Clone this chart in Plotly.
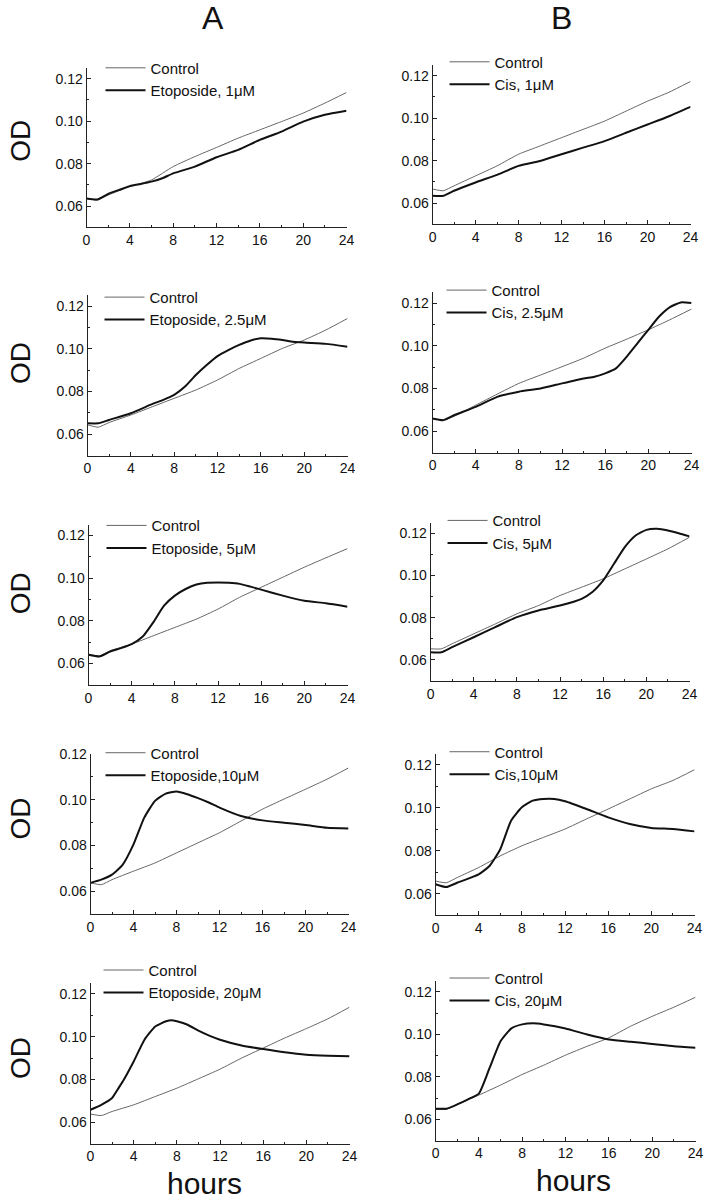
import plotly.graph_objects as go

# ---------------- data ----------------
ctrl_hours = [0, 1, 2, 4, 6, 8, 10, 12, 14, 16, 18, 20, 22, 24]

# Column A (Etoposide)
a1_control = [0.0636, 0.0628, 0.0652, 0.0691, 0.0723, 0.0786, 0.0833, 0.0876, 0.0920, 0.0959, 0.0998, 0.1038, 0.1085, 0.1135]
a1_hours = [0, 1, 2, 3, 4, 5, 6, 7, 8, 10, 12, 14, 16, 18, 20, 22, 24]
a1_drug = [0.0636, 0.0631, 0.0657, 0.0676, 0.0694, 0.0704, 0.0715, 0.0731, 0.0754, 0.0786, 0.0830, 0.0865, 0.0912, 0.0951, 0.0998, 0.1030, 0.1049]

a2_control = [0.0644, 0.0633, 0.0655, 0.0690, 0.0729, 0.0768, 0.0807, 0.0854, 0.0908, 0.0955, 0.1002, 0.1041, 0.1088, 0.1142]
a2_hours = [0, 1, 2, 4, 6, 7, 8, 9, 10, 11, 12, 13, 14, 15, 16, 17, 18, 19, 20, 22, 24]
a2_drug = [0.0651, 0.0651, 0.0667, 0.0698, 0.0742, 0.0761, 0.0784, 0.0823, 0.0877, 0.0924, 0.0966, 0.0994, 0.1018, 0.1038, 0.1049, 0.1047, 0.1041, 0.1033, 0.1029, 0.1023, 0.1010]

a3_control = [0.0644, 0.0636, 0.0660, 0.0691, 0.0730, 0.0769, 0.0808, 0.0855, 0.0910, 0.0957, 0.1004, 0.1051, 0.1095, 0.1138]
a3_hours = [0, 1, 2, 3, 4, 5, 6, 7, 8, 9, 10, 11, 12, 13, 14, 15, 16, 18, 20, 22, 24]
a3_drug = [0.0641, 0.0633, 0.0656, 0.0672, 0.0691, 0.0725, 0.0793, 0.0871, 0.0918, 0.0949, 0.0970, 0.0978, 0.0979, 0.0978, 0.0973, 0.0960, 0.0946, 0.0918, 0.0894, 0.0882, 0.0866]

a4_control = [0.0637, 0.0629, 0.0651, 0.0688, 0.0724, 0.0768, 0.0812, 0.0856, 0.0907, 0.0959, 0.1003, 0.1046, 0.1090, 0.1139]
a4_hours = [0, 1, 2, 3, 4, 5, 6, 7, 8, 9, 10, 11, 12, 14, 16, 18, 20, 22, 24]
a4_drug = [0.0637, 0.0651, 0.0673, 0.0717, 0.0805, 0.0922, 0.0995, 0.1027, 0.1036, 0.1024, 0.1007, 0.0988, 0.0966, 0.0929, 0.0910, 0.0900, 0.0890, 0.0878, 0.0875]

a5_control = [0.0638, 0.0631, 0.0650, 0.0681, 0.0720, 0.0759, 0.0803, 0.0848, 0.0900, 0.0947, 0.0994, 0.1038, 0.1084, 0.1138]
a5_hours = [0, 1, 2, 2.5, 3, 4, 5, 6, 7, 7.5, 8, 9, 10, 11, 12, 14, 16, 18, 20, 22, 24]
a5_drug = [0.0658, 0.0681, 0.0713, 0.0752, 0.0791, 0.0884, 0.0986, 0.1048, 0.1072, 0.1077, 0.1072, 0.1056, 0.1028, 0.1005, 0.0986, 0.0959, 0.0942, 0.0927, 0.0916, 0.0911, 0.0908]

# Column B (Cis)
b1_control = [0.0666, 0.0658, 0.0681, 0.0728, 0.0775, 0.0830, 0.0869, 0.0908, 0.0947, 0.0986, 0.1033, 0.1080, 0.1122, 0.1173]
b1_hours = [0, 1, 2, 4, 6, 8, 10, 12, 14, 16, 18, 20, 22, 24]
b1_drug = [0.0634, 0.0634, 0.0658, 0.0697, 0.0733, 0.0775, 0.0798, 0.0830, 0.0861, 0.0892, 0.0931, 0.0970, 0.1009, 0.1053]

b2_control = [0.0660, 0.0652, 0.0670, 0.0722, 0.0774, 0.0824, 0.0863, 0.0902, 0.0942, 0.0989, 0.1031, 0.1075, 0.1122, 0.1172]
b2_hours = [0, 1, 2, 4, 6, 8, 10, 12, 14, 15, 16, 17, 18, 19, 20, 21, 22, 23, 24]
b2_drug = [0.0660, 0.0652, 0.0675, 0.0714, 0.0761, 0.0785, 0.0800, 0.0824, 0.0847, 0.0855, 0.0871, 0.0894, 0.0949, 0.1012, 0.1075, 0.1137, 0.1181, 0.1203, 0.1200]

b3_control = [0.0652, 0.0652, 0.0676, 0.0723, 0.0770, 0.0818, 0.0857, 0.0905, 0.0944, 0.0984, 0.1031, 0.1078, 0.1126, 0.1181]
b3_hours = [0, 1, 2, 4, 6, 8, 10, 12, 14, 15, 16, 17, 18, 19, 20, 21, 22, 23, 24]
b3_drug = [0.0636, 0.0636, 0.0660, 0.0707, 0.0755, 0.0802, 0.0834, 0.0857, 0.0889, 0.0921, 0.0976, 0.1055, 0.1134, 0.1189, 0.1216, 0.1221, 0.1213, 0.1200, 0.1185]

b4_control = [0.0659, 0.0651, 0.0675, 0.0722, 0.0776, 0.0823, 0.0862, 0.0901, 0.0948, 0.0994, 0.1041, 0.1088, 0.1127, 0.1177]
b4_hours = [0, 1, 2, 4, 5, 6, 7, 8, 9, 10, 11, 12, 14, 16, 18, 20, 22, 24]
b4_drug = [0.0644, 0.0631, 0.0651, 0.0690, 0.0729, 0.0807, 0.0940, 0.1002, 0.1033, 0.1041, 0.1041, 0.1030, 0.0994, 0.0955, 0.0924, 0.0906, 0.0901, 0.0890]

b5_control = [0.0647, 0.0647, 0.0670, 0.0714, 0.0761, 0.0811, 0.0855, 0.0902, 0.0944, 0.0984, 0.1038, 0.1085, 0.1128, 0.1175]
b5_hours = [0, 1, 2, 3, 4, 5, 6, 7, 8, 9, 10, 12, 14, 16, 18, 20, 22, 24]
b5_drug = [0.0650, 0.0650, 0.0670, 0.0694, 0.0721, 0.0843, 0.0968, 0.1028, 0.1047, 0.1052, 0.1047, 0.1028, 0.0999, 0.0976, 0.0965, 0.0955, 0.0944, 0.0937]

drug_labels = [
    "Etoposide, 1\u03bcM", "Cis, 1\u03bcM",
    "Etoposide, 2.5\u03bcM", "Cis, 2.5\u03bcM",
    "Etoposide, 5\u03bcM", "Cis, 5\u03bcM",
    "Etoposide,10\u03bcM", "Cis,10\u03bcM",
    "Etoposide, 20\u03bcM", "Cis, 20\u03bcM",
]
x_ticks = [0, 4, 8, 12, 16, 20, 24]
y_ticks = [0.06, 0.08, 0.10, 0.12]

panels = [
    (a1_control, a1_hours, a1_drug), (b1_control, b1_hours, b1_drug),
    (a2_control, a2_hours, a2_drug), (b2_control, b2_hours, b2_drug),
    (a3_control, a3_hours, a3_drug), (b3_control, b3_hours, b3_drug),
    (a4_control, a4_hours, a4_drug), (b4_control, b4_hours, b4_drug),
    (a5_control, a5_hours, a5_drug), (b5_control, b5_hours, b5_drug),
]

# ---------------- layout geometry (target pixels in the photo) ----------------
W, H = 708, 1199
# left, right, top, bottom, ymax
boxes = [
    (87, 347, 68, 227, 0.125), (433, 691, 65, 224, 0.125),
    (88, 348, 295, 455, 0.125), (433, 692, 292, 452, 0.125),
    (89, 348, 524, 684, 0.125), (431, 690, 522, 680, 0.125),
    (91, 349, 753, 913, 0.12), (436, 695, 753, 914, 0.125),
    (91, 350, 982, 1142, 0.125), (436, 696, 980, 1139, 0.125),
]
# legend line start x, first row center y
legend_pos = [
    (107, 68), (451, 62), (106, 297), (448, 290), (108, 525),
    (449, 520), (107, 752), (451, 751), (105, 969), (451, 977),
]


def px_x(p):
    # photo pixel -> paper fraction (calibrated from a previous render)
    return ((p - 4.5) / 0.983) / W


def px_y(p):
    return 1 - ((p - 8) / 0.992) / H


FONT = "Liberation Sans, Arial, sans-serif"
fig = go.Figure()
layout = dict(
    width=W, height=H, margin=dict(l=0, r=0, t=0, b=0),
    paper_bgcolor="white", plot_bgcolor="white",
    font=dict(family=FONT, color="#111"),
    showlegend=True, hovermode=False,
)

for i, ((ctrl, dh, dv), (l, r, t, b, ymax), (lx, ly)) in enumerate(zip(panels, boxes, legend_pos)):
    n = i + 1
    xa = "x" if n == 1 else f"x{n}"
    ya = "y" if n == 1 else f"y{n}"
    leg = "legend" if n == 1 else f"legend{n}"
    fig.add_trace(go.Scatter(
        x=ctrl_hours, y=ctrl, mode="lines", name="Control",
        line=dict(color="#666", width=1, shape="spline", smoothing=0.5),
        xaxis=xa, yaxis=ya, legend=leg,
    ))
    fig.add_trace(go.Scatter(
        x=dh, y=dv, mode="lines", name=drug_labels[i],
        line=dict(color="#111", width=2, shape="spline", smoothing=0.5),
        xaxis=xa, yaxis=ya, legend=leg,
    ))
    common = dict(showline=True, linecolor="#222", linewidth=1, showgrid=False,
                  zeroline=False, ticks="inside", ticklen=4, tickcolor="#222",
                  tickfont=dict(size=14, family=FONT, color="#111"))
    layout["xaxis" if n == 1 else f"xaxis{n}"] = dict(
        common, domain=[px_x(l), px_x(r)], anchor=ya, range=[0, 24],
        tickvals=x_ticks, ticktext=[str(v) for v in x_ticks],
        minor=dict(dtick=2, ticklen=2, ticks="inside", tickcolor="#222"),
    )
    layout["yaxis" if n == 1 else f"yaxis{n}"] = dict(
        common, domain=[px_y(b), px_y(t)], anchor=xa, range=[0.05, ymax],
        tickvals=y_ticks, tickformat=".2f",
        minor=dict(dtick=0.01, tick0=0.05, ticklen=2, ticks="inside", tickcolor="#222"),
    )
    layout[leg] = dict(
        x=px_x(lx - 6), y=px_y(ly - 16.5), xanchor="left", yanchor="top",
        bgcolor="rgba(0,0,0,0)", borderwidth=0, itemwidth=40,
        font=dict(size=15, family=FONT, color="#111"), tracegroupgap=0,
    )

annotations = []
for txt, x, y in [("A", 213, 18), ("B", 562, 18)]:
    annotations.append(dict(text=txt, x=px_x(x), y=px_y(y), xref="paper", yref="paper",
                            showarrow=False, font=dict(size=32, family=FONT, color="#111"),
                            xanchor="center", yanchor="middle"))
for y in [141, 363, 593, 818, 1057]:
    annotations.append(dict(text="OD", x=px_x(21), y=px_y(y), xref="paper", yref="paper",
                            showarrow=False, textangle=-90,
                            font=dict(size=28, family=FONT, color="#111"),
                            xanchor="center", yanchor="middle"))
for x, y in [(205, 1182), (574, 1179)]:
    annotations.append(dict(text="hours", x=px_x(x), y=px_y(y), xref="paper", yref="paper",
                            showarrow=False, font=dict(size=30, family=FONT, color="#111"),
                            xanchor="center", yanchor="middle"))
layout["annotations"] = annotations

fig.update_layout(**layout)
fig.write_html(
    "out.html",
    config={"displayModeBar": False, "staticPlot": True},
    post_script="document.body.style.margin='0px';document.body.style.padding='0px';"
                "document.documentElement.style.overflow='hidden';",
)
